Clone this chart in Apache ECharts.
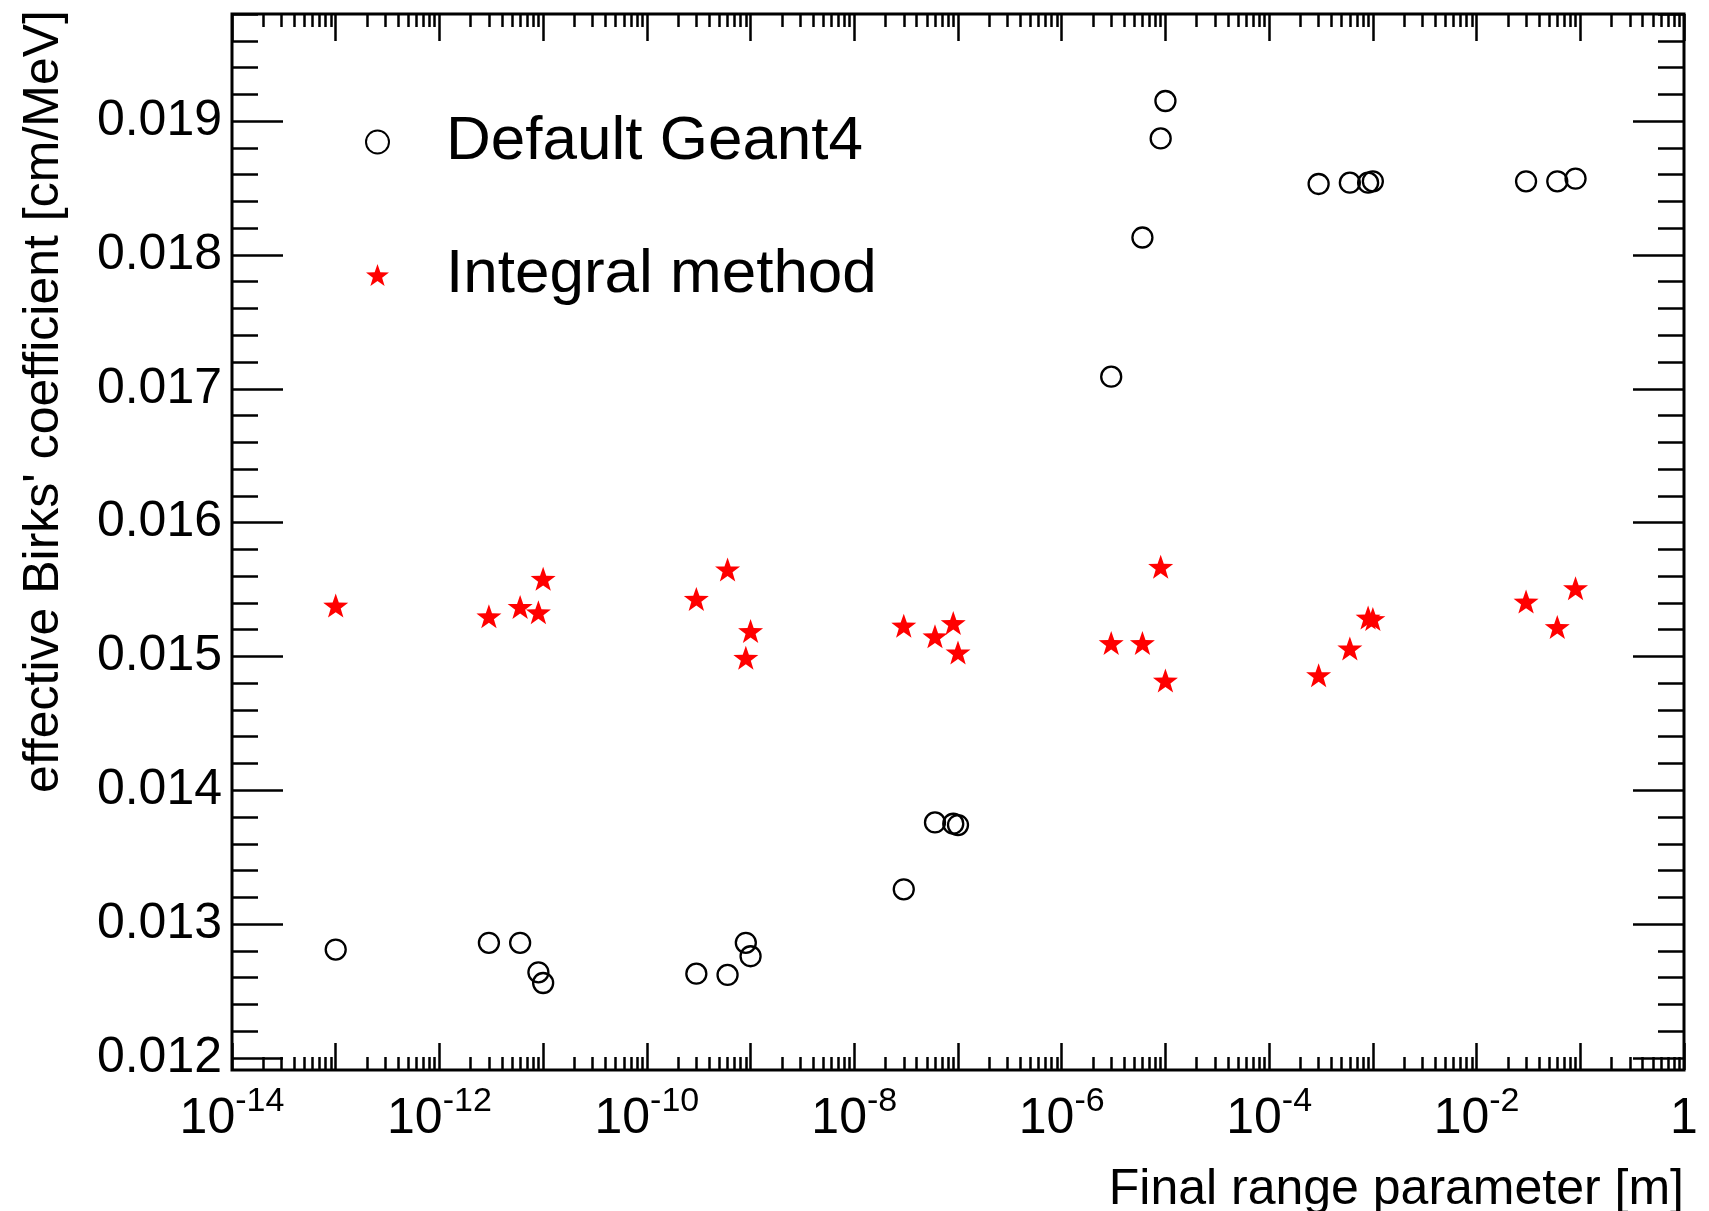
<!DOCTYPE html>
<html>
<head>
<meta charset="utf-8">
<script src="https://cdn.jsdelivr.net/npm/echarts@6/dist/echarts.min.js"></script>
<style>
html,body{margin:0;padding:0;background:#fff;}
#chart{width:1709px;height:1211px;}
</style>
</head>
<body>
<div id="chart"></div>
<script>
// ---------------- data ----------------
const rangeParameter = [1e-13, 3e-12, 6e-12, 9e-12, 1e-11, 3e-10, 6e-10, 9e-10, 1e-9,
  3e-8, 6e-8, 9e-8, 1e-7, 3e-6, 6e-6, 9e-6, 1e-5, 3e-4, 6e-4, 9e-4, 1e-3, 3e-2, 6e-2, 9e-2];
const defaultGeant4 = [0.01281, 0.01286, 0.01286, 0.01264, 0.01256, 0.01263, 0.01262, 0.01286, 0.01276,
  0.01326, 0.01376, 0.01375, 0.01374, 0.01709, 0.01813, 0.01887, 0.01915, 0.01853, 0.01854, 0.01854, 0.01855,
  0.01855, 0.01855, 0.01857];
const integralMethod = [0.01538, 0.01530, 0.01537, 0.01533, 0.01558, 0.01543, 0.01565, 0.01499, 0.01519,
  0.01523, 0.01515, 0.01525, 0.01503, 0.01510, 0.01510, 0.01567, 0.01482, 0.01486, 0.01506, 0.01529, 0.01528,
  0.01541, 0.01522, 0.01551];
const seriesNames = ['Default Geant4', 'Integral method'];
const xTitle = 'Final range parameter [m]';
const yTitle = "effective Birks' coefficient [cm/MeV]";
const xLabelTicks = [1e-14, 1e-12, 1e-10, 1e-8, 1e-6, 1e-4, 1e-2, 1];
const xDecadeTicks = [1e-14, 1e-13, 1e-12, 1e-11, 1e-10, 1e-9, 1e-8, 1e-7, 1e-6, 1e-5, 1e-4, 1e-3, 1e-2, 1e-1, 1];
const yMajorTicks = [0.012, 0.013, 0.014, 0.015, 0.016, 0.017, 0.018, 0.019];

// ---------------- axis ranges ----------------
const X_MIN = 1e-14, X_MAX = 1;
const Y_MIN = 0.01191, Y_MAX = 0.0198;

// minor tick positions (2..9 within each decade; every 0.0002 on y)
const xMinorTicks = [];
for (let e = -14; e < 0; e++) {
  for (let k = 2; k <= 9; k++) xMinorTicks.push(Number((k * Math.pow(10, e)).toPrecision(3)));
}
const yMinorTicks = [];
for (let i = 60; i <= 99; i++) yMinorTicks.push(Number((i * 0.0002).toFixed(4)));

// ---------------- styles ----------------
const FONT = '"Liberation Sans", Arial, Helvetica, sans-serif';
const tickLine = { color: '#000', width: 2.5 };

function starPath() {
  const pts = [];
  for (let i = 0; i < 10; i++) {
    const a = -Math.PI / 2 + i * Math.PI / 5;
    const r = (i % 2 === 0) ? 1 : 0.4;
    pts.push((r * Math.cos(a)).toFixed(4) + ' ' + (r * Math.sin(a)).toFixed(4));
  }
  return 'path://M' + pts.join(' L') + ' Z';
}

function xAxisCfg(position, ticks, len, withLabels) {
  const ax = {
    type: 'log', logBase: 10, min: X_MIN, max: X_MAX, position: position,
    axisLine: { show: false },
    splitLine: { show: false },
    minorTick: { show: false },
    minorSplitLine: { show: false },
    axisTick: { show: true, inside: true, length: len, customValues: ticks, lineStyle: tickLine },
    axisLabel: { show: false }
  };
  if (withLabels) {
    ax.axisLabel = {
      show: true,
      customValues: xLabelTicks,
      margin: 15,
      color: '#000',
      fontFamily: FONT,
      formatter: function (v) {
        const e = Math.round(Math.log10(v));
        return e === 0 ? '{b|1}' : '{b|10}{s|' + e + '}';
      },
      rich: {
        b: { fontSize: 50, fontFamily: FONT, color: '#000', lineHeight: 68 },
        s: { fontSize: 34, fontFamily: FONT, color: '#000', padding: [0, 0, 34, 0], lineHeight: 68 }
      }
    };
    ax.name = xTitle;
    ax.nameLocation = 'end';
    ax.nameGap = 0;
    ax.nameMoveOverlap = false;
    ax.nameTextStyle = {
      fontSize: 50, fontFamily: FONT, color: '#000', lineHeight: 50,
      align: 'right', verticalAlign: 'top', padding: [95, 0, 0, 0]
    };
  }
  return ax;
}

function yAxisCfg(position, ticks, len, withLabels) {
  const ax = {
    type: 'value', min: Y_MIN, max: Y_MAX, position: position,
    axisLine: { show: false },
    splitLine: { show: false },
    minorTick: { show: false },
    axisTick: { show: true, inside: true, length: len, customValues: ticks, lineStyle: tickLine },
    axisLabel: { show: false }
  };
  if (withLabels) {
    ax.axisLabel = {
      show: true, customValues: yMajorTicks, margin: 10,
      fontSize: 50, fontFamily: FONT, color: '#000',
      formatter: function (v) { return v.toFixed(3); }
    };
    ax.name = yTitle;
    ax.nameLocation = 'end';
    ax.nameGap = 4;
    ax.nameRotate = 90;
    ax.nameMoveOverlap = false;
    ax.nameTextStyle = {
      fontSize: 50, fontFamily: FONT, color: '#000', lineHeight: 50,
      align: 'right', verticalAlign: 'bottom', padding: [0, 0, 163, 0]
    };
  }
  return ax;
}

const chart = echarts.init(document.getElementById('chart'), null, { renderer: 'canvas' });
chart.setOption({
  animation: false,
  backgroundColor: '#fff',
  grid: {
    left: 232, top: 14, right: 25, bottom: 141,
    show: true, borderColor: '#000', borderWidth: 3, backgroundColor: 'transparent',
    outerBoundsMode: 'none', containLabel: false
  },
  legend: {
    orient: 'vertical', left: 365, top: 111, itemGap: 71, padding: 0,
    itemWidth: 23, itemHeight: 23,
    data: seriesNames,
    textStyle: { fontSize: 62, fontFamily: FONT, color: '#000', lineHeight: 62, padding: [0, 0, 0, 52] },
    selectedMode: false
  },
  xAxis: [
    xAxisCfg('bottom', xDecadeTicks, 27, true),
    xAxisCfg('bottom', xMinorTicks, 13, false),
    xAxisCfg('top', xDecadeTicks, 27, false),
    xAxisCfg('top', xMinorTicks, 13, false)
  ],
  yAxis: [
    yAxisCfg('left', yMajorTicks, 51, true),
    yAxisCfg('left', yMinorTicks, 26, false),
    yAxisCfg('right', yMajorTicks, 51, false),
    yAxisCfg('right', yMinorTicks, 26, false)
  ],
  series: [
    {
      name: seriesNames[0], type: 'scatter', xAxisIndex: 0, yAxisIndex: 0,
      data: rangeParameter.map(function (x, i) { return [x, defaultGeant4[i]]; }),
      symbol: 'circle', symbolSize: 20,
      itemStyle: { color: 'rgba(255,255,255,0)', borderColor: '#000', borderWidth: 2.3, opacity: 1 },
      emphasis: { disabled: true }, z: 3
    },
    {
      name: seriesNames[1], type: 'scatter', xAxisIndex: 0, yAxisIndex: 0,
      data: rangeParameter.map(function (x, i) { return [x, integralMethod[i]]; }),
      symbol: starPath(), symbolSize: [25, 24],
      itemStyle: { color: '#ff0000', opacity: 1 },
      emphasis: { disabled: true }, z: 4
    }
  ]
});
</script>
</body>
</html>
